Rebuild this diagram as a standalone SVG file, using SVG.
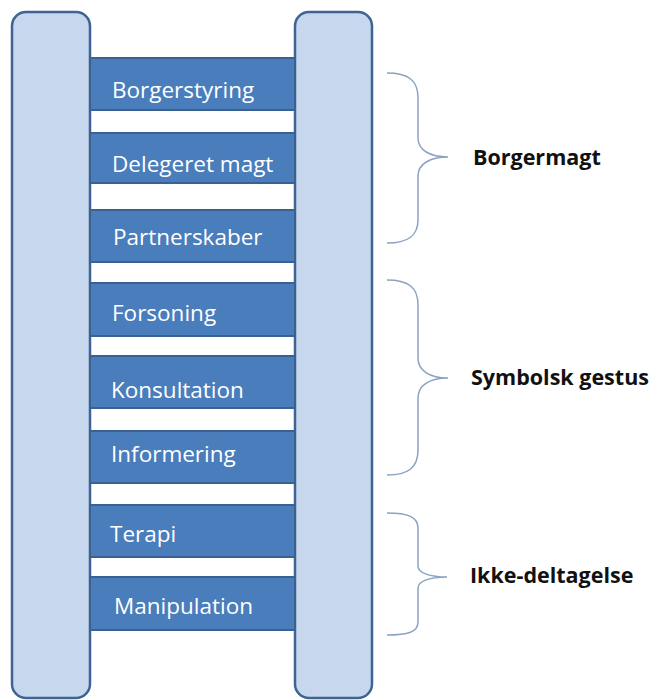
<svg xmlns="http://www.w3.org/2000/svg" width="657" height="700" viewBox="0 0 657 700">
<style>
.rail{fill:#c6d7ee;stroke:#3f6392;stroke-width:2.5}
.rung{fill:#4a7dbb;stroke:#3b6190;stroke-width:2}
.rt{font-family:"Open Sans","Liberation Sans",sans-serif;font-size:22.5px;fill:#ffffff}
.brace{fill:none;stroke:#8ba3c2;stroke-width:1.5}
.lbl{font-family:"Open Sans","Liberation Sans",sans-serif;font-size:21.5px;font-weight:bold;fill:#111111}
</style>
<rect width="657" height="700" fill="#ffffff"/>
<g id="rail-left"><rect class="rail" x="12" y="12" width="78" height="686" rx="14"/></g>
<g id="rail-right"><rect class="rail" x="295" y="12" width="77" height="686" rx="14"/></g>
<g id="rung-borgerstyring"><rect class="rung" x="90" y="58" width="205" height="52"/><text class="rt" x="112" y="98">Borgerstyring</text></g>
<g id="rung-delegeret"><rect class="rung" x="90" y="133" width="205" height="50"/><text class="rt" x="112" y="172">Delegeret magt</text></g>
<g id="rung-partnerskaber"><rect class="rung" x="90" y="210" width="205" height="52"/><text class="rt" x="113" y="245">Partnerskaber</text></g>
<g id="rung-forsoning"><rect class="rung" x="90" y="283" width="205" height="53"/><text class="rt" x="112" y="321">Forsoning</text></g>
<g id="rung-konsultation"><rect class="rung" x="90" y="356" width="205" height="52"/><text class="rt" x="111" y="398">Konsultation</text></g>
<g id="rung-informering"><rect class="rung" x="90" y="431" width="205" height="52"/><text class="rt" x="111" y="462">Informering</text></g>
<g id="rung-terapi"><rect class="rung" x="90" y="505" width="205" height="52"/><text class="rt" x="110" y="542">Terapi</text></g>
<g id="rung-manipulation"><rect class="rung" x="90" y="577" width="205" height="53"/><text class="rt" x="114" y="614">Manipulation</text></g>
<g id="connectors">
<path class="brace" d="M387,73 C408,73 418,80 418,98 L418,138 C418,150 430,157 448,157 C430,157 418,164 418,176 L418,220 C418,236 408,243 387,243"/>
<path class="brace" d="M387,280 C408,280 418,287 418,305 L418,358 C418,371 430,378 448,378 C430,378 418,385 418,398 L418,450 C418,468 408,475 387,475"/>
<path class="brace" d="M387,513 C408,513 418,517 418,528 L418,566 C418,573 430,577 447,577 C430,577 418,581 418,588 L418,622 C418,632 408,635 387,635"/>
</g>
<g id="group-borgermagt"><text class="lbl" x="473" y="165">Borgermagt</text></g>
<g id="group-symbolsk"><text class="lbl" x="471" y="385">Symbolsk gestus</text></g>
<g id="group-ikke"><text class="lbl" x="470" y="583">Ikke-deltagelse</text></g>
</svg>
